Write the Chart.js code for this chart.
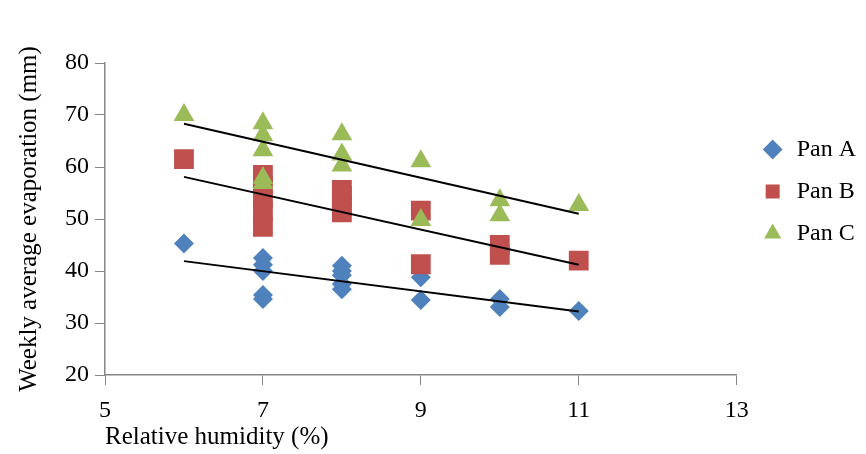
<!DOCTYPE html>
<html>
<head>
<meta charset="utf-8">
<title>Evaporation vs humidity</title>
<script src="https://cdn.jsdelivr.net/npm/chart.js@4.4.1/dist/chart.umd.min.js"></script>
<style>
    body { margin: 0; background: #fff; }
    #wrap { width: 866px; height: 454px; }
</style>
</head>
<body>
<div id="wrap"><canvas id="scatter-chart"></canvas></div>
<script>
// valori
var panAx = [6, 7, 7, 7, 7, 7, 8, 8, 8, 8, 8, 9, 9, 10, 10, 11];
var panAy = [45.3, 42.5, 41.2, 40, 35.4, 34.6, 41, 40, 39.2, 37.5, 36.5, 38.8, 34.4, 34.6, 33.1, 32.3];

var panBx = [6, 7, 7, 7, 7, 7, 8, 8, 8, 8, 9, 9, 10, 10, 11];
var panBy = [61.5, 58.5, 56.5, 54, 51.5, 48.5, 55.6, 54.5, 52.5, 51.3, 51.6, 41.3, 45, 43.1, 42];

var panCx = [6, 7, 7, 7, 7, 7, 8, 8, 8, 9, 9, 10, 10, 11];
var panCy = [70, 68.4, 66.1, 63.2, 57.9, 56.9, 66.3, 62.4, 60.3, 61.1, 49.8, 53.6, 50.7, 52.7];

// linee di tendenza (estremi)
var trendX = [6, 11];
var trendA = [41.9, 32.2];
var trendB = [58.1, 41.2];
var trendC = [68.3, 51.0];

var xTicks = [5, 7, 9, 11, 13];
var yTicks = [20, 30, 40, 50, 60, 70, 80];

var FONT = 'Liberation Serif';
var AXIS_GREY = '#868686';

// sposta la legenda verso l'alto (come nell'originale)
var legendShift = {
    id: 'legendShift',
    afterLayout: function (chart) {
        var legend = chart.legend;
        legend.left += 6;
        legend.right += 6;
        legend.top -= 67;
        legend.bottom -= 67;
    }
};

function toPoints(xs, ys) {
    var points = [];
    for (var i = 0; i < xs.length; i++) {
        points.push({x: xs[i], y: ys[i]});
    }
    return points;
}

function scatterSet(label, xs, ys, color, style, radius, order) {
    return {
        label: label,
        data: toPoints(xs, ys),
        backgroundColor: color,
        borderColor: color,
        borderWidth: 0,
        pointStyle: style,
        pointRadius: radius,
        pointHoverRadius: radius,
        order: order
    };
}

function trendSet(ys) {
    return {
        type: 'line',
        label: 'trend',
        data: toPoints(trendX, ys),
        borderColor: '#000',
        borderWidth: 2,
        pointRadius: 0,
        fill: false,
        order: 0
    };
}

function makeScatterChart() {
    var ctx = document.getElementById('scatter-chart');
    var chart = new Chart(ctx, {
        type: 'scatter',
        data: {
            datasets: [
                scatterSet('Pan A', panAx, panAy, '#4F81BD', 'rectRot', 10, 3),
                scatterSet('Pan B', panBx, panBy, '#C0504D', 'rect', 14, 2),
                scatterSet('Pan C', panCx, panCy, '#9BBB59', 'triangle', 12, 1),
                trendSet(trendA),
                trendSet(trendB),
                trendSet(trendC)
            ]
        },
        plugins: [legendShift],
        options: {
            responsive: true,
            maintainAspectRatio: false,
            animation: false,
            layout: {
                padding: {top: 63, left: 0, bottom: 0, right: 6}
            },
            plugins: {
                tooltip: {enabled: false},
                legend: {
                    position: 'right',
                    labels: {
                        usePointStyle: true,
                        boxHeight: 14,
                        padding: 18,
                        color: '#000',
                        font: {family: FONT, size: 24},
                        filter: function (item) {
                            return item.text !== 'trend';
                        },
                        sort: function (a, b) {
                            return a.datasetIndex - b.datasetIndex;
                        }
                    }
                }
            },
            scales: {
                x: {
                    type: 'linear',
                    min: 5,
                    max: 13,
                    afterBuildTicks: function (scale) {
                        scale.ticks = xTicks.map(function (v) { return {value: v}; });
                    },
                    afterFit: function (scale) {
                        scale.height = 79;
                    },
                    ticks: {
                        color: '#000',
                        padding: 11,
                        font: {family: FONT, size: 24}
                    },
                    grid: {
                        drawOnChartArea: false,
                        tickLength: 10,
                        color: AXIS_GREY
                    },
                    border: {color: AXIS_GREY, width: 1.5},
                    title: {
                        display: true,
                        text: 'Relative humidity (%)',
                        align: 'start',
                        color: '#000',
                        font: {family: FONT, size: 25},
                        padding: {top: 0, bottom: 2}
                    }
                },
                y: {
                    min: 20,
                    max: 80,
                    afterBuildTicks: function (scale) {
                        scale.ticks = yTicks.map(function (v) { return {value: v}; });
                    },
                    afterFit: function (scale) {
                        scale.width = 105;
                    },
                    ticks: {
                        color: '#000',
                        padding: 6,
                        font: {family: FONT, size: 24}
                    },
                    grid: {
                        drawOnChartArea: false,
                        tickLength: 10,
                        color: AXIS_GREY
                    },
                    border: {color: AXIS_GREY, width: 1.5},
                    title: {
                        display: true,
                        text: 'Weekly average evaporation (mm)',
                        color: '#000',
                        font: {family: FONT, size: 25},
                        padding: {top: 14, bottom: 0}
                    }
                }
            }
        }
    });
    return chart;
}

makeScatterChart();
</script>
</body>
</html>
